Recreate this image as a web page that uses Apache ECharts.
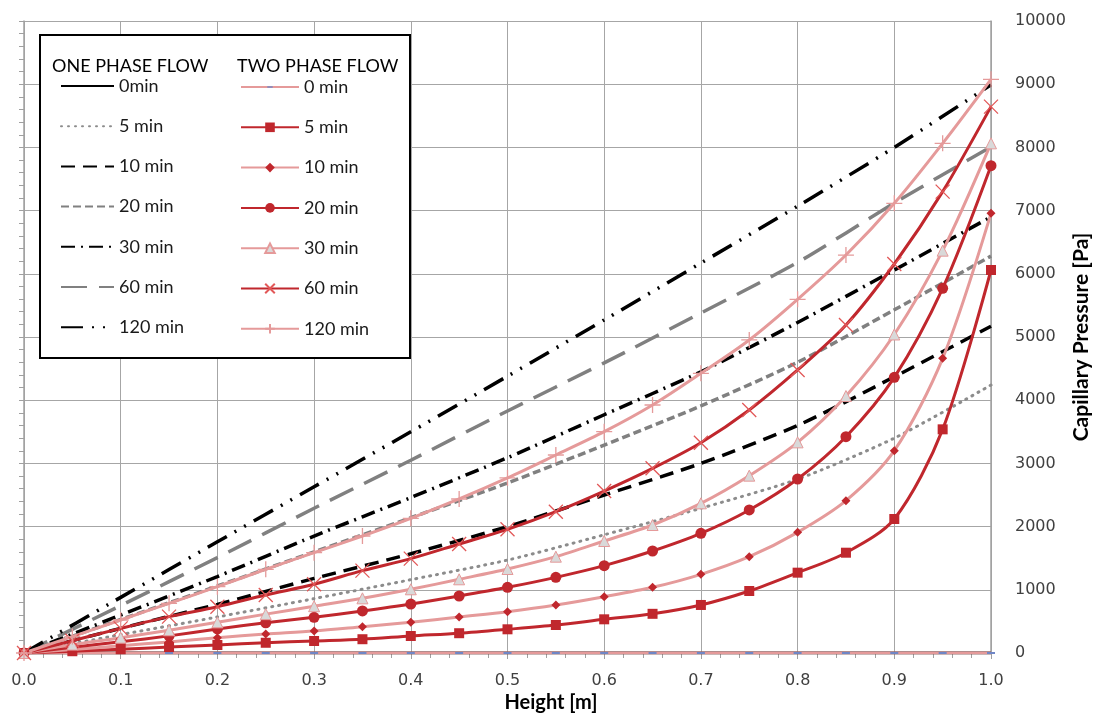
<!DOCTYPE html>
<html>
<head>
<meta charset="utf-8">
<script src="https://cdn.jsdelivr.net/npm/echarts@6/dist/echarts.min.js"></script>
<style>
html,body{margin:0;padding:0;background:#fff;}
#chart{width:1093px;height:715px;}
</style>
</head>
<body>
<div id="chart"></div>
<script>
// ---------- DATA ----------
// One phase flow (read every 0.1 m)
const onePhaseHeights = [0, 0.1, 0.2, 0.3, 0.4, 0.5, 0.6, 0.7, 0.8, 0.9, 1.0];
const op0   = [0, 0, 0, 0, 0, 0, 0, 0, 0, 0, 0];
const op5   = [0, 290, 570, 860, 1160, 1470, 1870, 2290, 2750, 3400, 4240];
const op10  = [0, 390, 770, 1180, 1570, 2000, 2500, 3000, 3600, 4370, 5170];
const op20  = [0, 530, 1060, 1600, 2140, 2690, 3290, 3910, 4600, 5430, 6280];
const op30  = [0, 600, 1210, 1850, 2460, 3090, 3770, 4450, 5230, 6060, 6900];
const op60  = [0, 750, 1510, 2290, 3050, 3830, 4590, 5380, 6180, 7120, 8010];
const op120 = [0, 880, 1760, 2630, 3500, 4380, 5270, 6170, 7070, 8000, 8990];

// Two phase flow (read every 0.05 m)
const twoPhaseHeights = [0, 0.05, 0.1, 0.15, 0.2, 0.25, 0.3, 0.35, 0.4, 0.45, 0.5,
                         0.55, 0.6, 0.65, 0.7, 0.75, 0.8, 0.85, 0.9, 0.95, 1.0];
const tp0   = [0,0,0,0,0,0,0,0,0,0,0,0,0,0,0,0,0,0,0,0,0];
const tp5   = [0, 28, 60, 94, 127, 162, 190, 218, 269, 313, 375, 443, 533, 620, 760, 981, 1271, 1587, 2120, 3539, 6060];
const tp10  = [0, 55, 115, 175, 243, 299, 348, 416, 485, 570, 654, 759, 891, 1039, 1245, 1524, 1909, 2410, 3201, 4662, 6957];
const tp20  = [0, 90, 178, 271, 380, 478, 564, 665, 775, 902, 1039, 1197, 1382, 1614, 1893, 2263, 2753, 3423, 4362, 5770, 7711];
const tp30  = [0, 133, 243, 360, 485, 615, 740, 865, 1008, 1166, 1329, 1524, 1772, 2025, 2368, 2806, 3333, 4066, 5040, 6366, 8064];
const tp60  = [0, 195, 390, 575, 733, 918, 1087, 1303, 1493, 1725, 1957, 2236, 2563, 2922, 3328, 3845, 4478, 5190, 6155, 7300, 8645];
const tp120 = [0, 260, 522, 786, 1049, 1324, 1588, 1851, 2131, 2437, 2770, 3133, 3502, 3924, 4425, 4953, 5596, 6297, 7115, 8064, 9077];

const onePhaseNames = ['0min', '5 min', '10 min', '20 min', '30 min', '60 min', '120 min'];
const twoPhaseNames = ['0 min', '5 min', '10 min', '20 min', '30 min', '60 min', '120 min'];
const xTicks = ['0.0','0.1','0.2','0.3','0.4','0.5','0.6','0.7','0.8','0.9','1.0'];

// ---------- STYLES ----------
const DARK = '#C0272D';
const PINK = '#E59A9A';
const SUF = '\u0002'; // internal suffix to keep two-phase series names unique

function pairs(xs, ys){ return xs.map((x,i)=>[x, ys[i]]); }

const oneStyles = [
  {color:'#000000', width:3, type:'solid'},
  {color:'#8C8C8C', width:3, type:[1,6], cap:'round'},
  {color:'#000000', width:3.5, type:[14,8]},
  {color:'#808080', width:3.5, type:[8,4]},
  {color:'#000000', width:3.5, type:[14,6,2,6]},
  {color:'#808080', width:3.5, type:[26,12]},
  {color:'#000000', width:3.5, type:[22,9,2,9,2,9]}
];
const oneData = [op0, op5, op10, op20, op30, op60, op120];

const series = [];
onePhaseNames.forEach((n,i)=>{
  const s = oneStyles[i];
  series.push({
    name: n, type:'line', smooth:0.25, symbol:'circle', symbolSize:0, showSymbol:false,
    data: pairs(onePhaseHeights, oneData[i]),
    lineStyle:{color:s.color, width:s.width, type:s.type, cap:s.cap||'butt'},
    itemStyle:{color:s.color, opacity:0},
    emphasis:{disabled:true}, z:2
  });
});

const dashPath = 'path://M0,0L0,0M3,6L11,6L11,8L3,8ZM14,14L14,14';
const xPath = 'path://M0,0L10,10M10,0L0,10';
const plusPath = 'path://M5,0L5,10M0,5L10,5';
const twoDefs = [
  {data:tp0,   line:PINK, symbol:dashPath, size:14, item:{color:'#6F86C6'}},
  {data:tp5,   line:DARK, symbol:'rect', size:10, item:{color:DARK}},
  {data:tp10,  line:PINK, symbol:'diamond', size:9, item:{color:DARK}},
  {data:tp20,  line:DARK, symbol:'circle', size:11, item:{color:DARK}},
  {data:tp30,  line:PINK, symbol:'triangle', size:11, item:{color:'#D9D9D9', borderColor:PINK, borderWidth:1}},
  {data:tp60,  line:DARK, symbol:xPath, size:14, item:{color:'rgba(0,0,0,0)', borderColor:'#E25858', borderWidth:1.3}},
  {data:tp120, line:PINK, symbol:plusPath, size:16, item:{color:'rgba(0,0,0,0)', borderColor:PINK, borderWidth:1.3}}
];
twoPhaseNames.forEach((n,i)=>{
  const d = twoDefs[i];
  series.push({
    name: n + SUF, type:'line', smooth:0.3,
    symbol:d.symbol, symbolSize:d.size, showSymbol:true,
    data: pairs(twoPhaseHeights, d.data),
    lineStyle:{color:d.line, width:3},
    itemStyle:d.item,
    emphasis:{disabled:true}, z:3
  });
});

const chart = echarts.init(document.getElementById('chart'), null, {renderer:'canvas'});
const labelFont = 'DejaVu Sans';
const legendFont = 'Lato';

chart.setOption({
  animation:false,
  backgroundColor:'#ffffff',
  grid:{left:24, right:102, top:21, bottom:62, containLabel:false, outerBoundsMode:'none'},
  xAxis:{
    type:'value', min:0, max:1, interval:0.1,
    axisLine:{show:true, onZero:false, lineStyle:{color:'#A0A0A0', width:1.5}},
    axisTick:{show:true, length:6, lineStyle:{color:'#A0A0A0'}},
    minorTick:{show:true, splitNumber:5, length:5, lineStyle:{color:'#A0A0A0'}},
    splitLine:{show:true, lineStyle:{color:'#A6A6A6', width:1}},
    axisLabel:{margin:20, color:'#404040', fontFamily:labelFont, fontSize:16,
      formatter:(v)=>xTicks[Math.round(v*10)]}
  },
  yAxis:[
    {
      type:'value', min:0, max:10000, interval:1000, position:'left',
      axisLine:{show:true, lineStyle:{color:'#A0A0A0', width:1.5}},
      axisTick:{show:true, length:5, lineStyle:{color:'#A0A0A0'}},
      minorTick:{show:true, splitNumber:5, length:5, lineStyle:{color:'#A0A0A0'}},
      axisLabel:{show:false},
      splitLine:{show:true, lineStyle:{color:'#A6A6A6', width:1}}
    },
    {
      type:'value', min:0, max:10000, interval:1000, position:'right',
      axisLine:{show:true, lineStyle:{color:'#A0A0A0', width:1.5}},
      axisTick:{show:false},
      splitLine:{show:false},
      axisLabel:{margin:24, color:'#404040', fontFamily:labelFont, fontSize:16,
        formatter:(v)=>String(v)},
      name:'Capillary Pressure [Pa]', nameLocation:'middle', nameGap:80, nameRotate:90,
      nameMoveOverlap:false,
      nameTextStyle:{fontFamily:legendFont, fontWeight:'bold', fontSize:21, color:'#000'}
    }
  ],
  legend:[
    {
      data:onePhaseNames, orient:'vertical', left:60, top:77, padding:0,
      itemWidth:53, itemHeight:12, itemGap:22.2, selectedMode:false,
      itemStyle:{opacity:0},
      textStyle:{fontFamily:legendFont, fontSize:18, color:'#1a1a1a', lineHeight:18},
      z:4
    },
    {
      data:twoPhaseNames.map(n=>n+SUF), orient:'vertical', left:240, top:78, padding:0,
      itemWidth:58, itemHeight:12, itemGap:22.3, selectedMode:false,
      formatter:(n)=>n.replace(SUF,''),
      textStyle:{fontFamily:legendFont, fontSize:18, color:'#1a1a1a', lineHeight:18},
      z:4
    }
  ],
  graphic:[
    {type:'rect', z:3, shape:{x:40, y:35, width:370, height:323},
     style:{fill:'#ffffff', stroke:'#000000', lineWidth:2}},
    {type:'text', z:4, x:52, y:66, style:{text:'ONE PHASE FLOW', font:'18px Lato', fill:'#000', verticalAlign:'middle'}},
    {type:'text', z:4, x:237, y:66, style:{text:'TWO PHASE FLOW', font:'18px Lato', fill:'#000', verticalAlign:'middle'}},
    {type:'text', z:4, x:551, y:703, style:{text:'Height [m]', font:'bold 20px Lato', fill:'#000', align:'center', verticalAlign:'middle'}}
  ],
  series:series
});
</script>
</body>
</html>
